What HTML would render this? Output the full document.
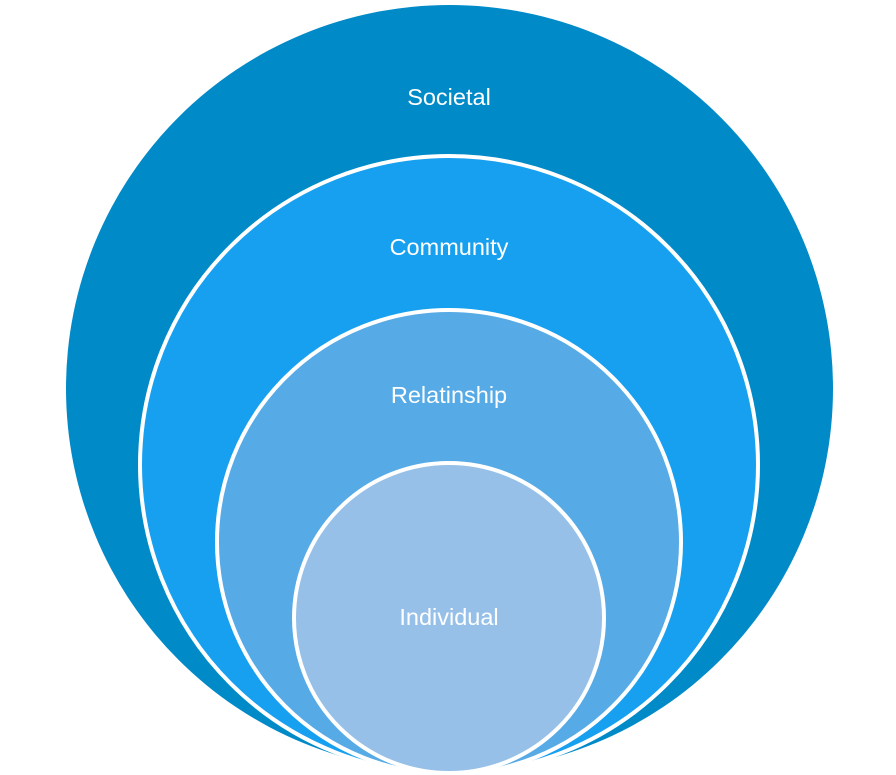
<!DOCTYPE html>
<html><head><style>body{margin:0;background:#fff}</style></head><body>
<svg width="896" height="775" xmlns="http://www.w3.org/2000/svg" style="display:block">
<circle cx="449.5" cy="388.5" r="383.5" fill="#008AC8"/>
<circle cx="449" cy="465" r="309" fill="#17A0EF" stroke="#fff" stroke-width="4"/>
<circle cx="449" cy="542" r="232" fill="#56AAE6" stroke="#fff" stroke-width="4"/>
<circle cx="449" cy="618" r="155" fill="#96C0E8" stroke="#fff" stroke-width="4"/>
<g font-family="Liberation Sans, sans-serif" font-size="23.5" fill="#fff" text-anchor="middle">
<text x="449" y="105">Societal</text>
<text x="449" y="255">Community</text>
<text x="449" y="403">Relatinship</text>
<text x="449" y="625">Individual</text>
</g>
</svg>
</body></html>
